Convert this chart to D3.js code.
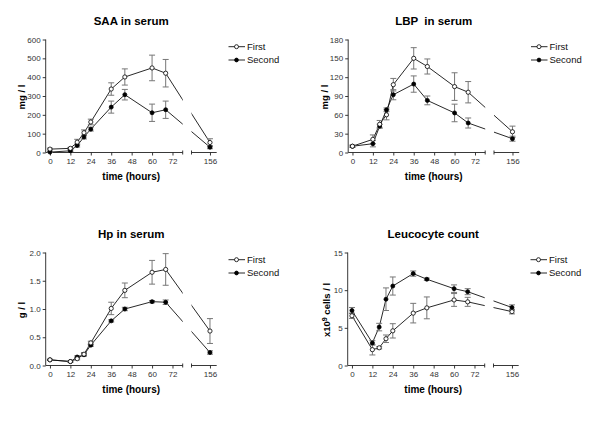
<!DOCTYPE html>
<html><head><meta charset="utf-8">
<script src="https://cdn.jsdelivr.net/npm/d3@7"></script>
<style>
html,body{margin:0;padding:0;background:#fff;}
svg{display:block;font-family:"Liberation Sans",Arial,Helvetica,sans-serif;}
text{white-space:pre;}
</style></head>
<body>
<svg id="chart" width="600" height="424"></svg>
<script>
const times = [0, 12, 16, 20, 24, 36, 44, 60, 68, 156];
const xTicks = [0, 12, 24, 36, 48, 60, 72, 156];
const seriesNames = ["First", "Second"];

const saaFirst = [18, 22, 55, 105, 162, 337, 401, 449, 421, 53];
const saaFirstErr = [5, 5, 15, 15, 15, 33, 43, 68, 73, 20];
const saaSecond = [2, 9, 37, 82, 124, 241, 307, 211, 227, 28];
const saaSecondErr = [3, 4, 8, 10, 10, 32, 28, 46, 46, 8];
const saaTicks = [0, 100, 200, 300, 400, 500, 600];

const lbpFirst = [10, 21, 45, 60, 108, 150, 137, 105, 96, 33];
const lbpFirstErr = [2, 7, 6, 8, 10, 17, 12, 22, 17, 9];
const lbpSecond = [10, 14, 42, 68, 92, 109, 83, 63, 47, 22];
const lbpSecondErr = [1, 5, 3, 3, 8, 13, 7, 14, 8, 4];
const lbpTicks = [0, 30, 60, 90, 120, 150, 180];

const hpFirst = [0.10, 0.07, 0.12, 0.20, 0.40, 1.01, 1.33, 1.65, 1.70, 0.61];
const hpFirstErr = [0.01, 0.01, 0.02, 0.03, 0.03, 0.11, 0.13, 0.21, 0.28, 0.22];
const hpSecond = [0.10, 0.07, 0.15, 0.19, 0.36, 0.79, 1.00, 1.13, 1.12, 0.23];
const hpSecondErr = [0.01, 0.01, 0.02, 0.02, 0.02, 0.02, 0.03, 0.02, 0.04, 0.03];
const hpTicks = [0, 0.5, 1.0, 1.5, 2.0];

const leuFirst = [6.6, 2.1, 2.35, 3.55, 4.6, 6.95, 7.65, 8.7, 8.45, 7.15];
const leuFirstErr = [0.35, 0.7, 0.15, 0.5, 0.95, 1.3, 1.45, 0.85, 0.6, 0.3];
const leuSecond = [7.3, 3.0, 5.1, 8.8, 10.55, 12.2, 11.45, 10.2, 9.8, 7.7];
const leuSecondErr = [0.4, 0.3, 0.5, 1.5, 1.2, 0.35, 0.15, 0.5, 0.4, 0.35];
const leuTicks = [0, 5, 10, 15];

const panels = [
  {ox: 0, oy: 0, title: "SAA in serum", ylabel: ["mg / l"], ticks: saaTicks, fmt: d3.format("d"),
   first: saaFirst, firstErr: saaFirstErr, second: saaSecond, secondErr: saaSecondErr},
  {ox: 302.5, oy: 0, title: "LBP  in serum", ylabel: ["mg / l"], ticks: lbpTicks, fmt: d3.format("d"),
   first: lbpFirst, firstErr: lbpFirstErr, second: lbpSecond, secondErr: lbpSecondErr},
  {ox: 0, oy: 213, title: "Hp in serum", ylabel: ["g / l"], ticks: hpTicks, fmt: d3.format(".1f"),
   first: hpFirst, firstErr: hpFirstErr, second: hpSecond, secondErr: hpSecondErr},
  {ox: 302, oy: 213, title: "Leucocyte count", ylabel: ["x10", "9", " cells / l"], ticks: leuTicks, fmt: d3.format("d"),
   first: leuFirst, firstErr: leuFirstErr, second: leuSecond, secondErr: leuSecondErr}
];

const svg = d3.select("#chart");
const defs = svg.append("defs");

const AX_L = 45.7, BRK1 = 182.7, BRK2 = 191.5, AX_R = 216.7;
const Y_BOT = 152.5, Y_TOP = 39.5;

panels.forEach((p, i) => {
  const g = svg.append("g").attr("transform", `translate(${p.ox},${p.oy})`);
  const x = d3.scaleLinear().domain([-2.5, 78, 145, 160]).range([AX_L, BRK1, BRK2, AX_R]);
  const yMax = p.ticks[p.ticks.length - 1];
  const y = d3.scaleLinear().domain([0, yMax]).range([Y_BOT, Y_TOP]);

  // clip for the axis break (in the group's local coordinates)
  const cid = "clip" + i;
  const cp = defs.append("clipPath").attr("id", cid);
  cp.append("rect").attr("x", 0).attr("y", 0).attr("width", BRK1).attr("height", 200);
  cp.append("rect").attr("x", BRK2).attr("y", 0).attr("width", 120).attr("height", 200);

  // title
  g.append("text").attr("x", (AX_L + AX_R) / 2).attr("y", 24.5).attr("text-anchor", "middle")
    .attr("font-size", 11.5).attr("font-weight", "bold").attr("fill", "#000").text(p.title);

  // y axis
  const yAxis = d3.axisLeft(y).tickValues(p.ticks).tickFormat(p.fmt).tickSize(3).tickPadding(2);
  const ya = g.append("g").attr("transform", `translate(${AX_L},0)`).call(yAxis);
  ya.select(".domain").attr("d", `M0,${Y_TOP}V${Y_BOT}`);

  // x axis segments
  const xAxis1 = d3.axisBottom(x).tickValues(xTicks.filter(t => t < 100)).tickFormat(d3.format("d")).tickSize(3).tickPadding(3);
  const xa1 = g.append("g").attr("transform", `translate(0,${Y_BOT})`).call(xAxis1);
  xa1.select(".domain").attr("d", `M${AX_L},0H${BRK1}M${BRK1},-2V2`);
  const xAxis2 = d3.axisBottom(x).tickValues(xTicks.filter(t => t > 100)).tickFormat(d3.format("d")).tickSize(3).tickPadding(3);
  const xa2 = g.append("g").attr("transform", `translate(0,${Y_BOT})`).call(xAxis2);
  xa2.select(".domain").attr("d", `M${BRK2},-2V2M${BRK2},0H${AX_R}`);

  g.selectAll(".domain, .tick line").attr("stroke", "#222").attr("stroke-width", 0.9);
  g.selectAll(".tick text").attr("font-size", 8).attr("fill", "#333")
    .attr("font-family", "'Liberation Sans',Arial,sans-serif");

  // axis labels
  g.append("text").attr("x", (AX_L + AX_R) / 2).attr("y", 179.5).attr("text-anchor", "middle")
    .attr("font-size", 10).attr("font-weight", "bold").text("time (hours)");
  const yl = g.append("text").attr("transform", `translate(${i === 3 ? 27.5 : 25},${(Y_TOP + Y_BOT) / 2 + 1}) rotate(-90)`)
    .attr("text-anchor", "middle").attr("font-size", 9.5).attr("font-weight", "bold");
  if (p.ylabel.length === 1) {
    yl.text(p.ylabel[0]);
  } else {
    yl.append("tspan").text(p.ylabel[0]);
    yl.append("tspan").attr("baseline-shift", "super").attr("font-size", 7).text(p.ylabel[1]);
    yl.append("tspan").text(p.ylabel[2]);
  }

  const series = [
    {vals: p.first, err: p.firstErr, open: true},
    {vals: p.second, err: p.secondErr, open: false}
  ];
  const line = d3.line().x((d, k) => x(times[k])).y(d => y(d));

  series.forEach(s => {
    g.append("path").datum(s.vals).attr("d", line).attr("fill", "none")
      .attr("stroke", "#111").attr("stroke-width", 0.9).attr("clip-path", `url(#${cid})`);
  });
  series.forEach(s => {
    const eb = g.append("g").attr("stroke", "#777").attr("stroke-width", 1).attr("fill", "none");
    s.vals.forEach((v, k) => {
      const e = s.err[k];
      if (!e) return;
      const cx = x(times[k]);
      const y1 = y(v + e), y0 = y(Math.max(0, v - e));
      eb.append("path").attr("d", `M${cx},${y0}V${y1}M${cx - 3},${y1}H${cx + 3}M${cx - 3},${y0}H${cx + 3}`);
    });
  });
  series.slice().reverse().forEach(s => {
    g.append("g").selectAll("circle").data(s.vals).join("circle")
      .attr("cx", (d, k) => x(times[k])).attr("cy", d => y(d))
      .attr("r", s.open ? 2.1 : 2.0)
      .attr("fill", s.open ? "#fff" : "#000").attr("stroke", "#000").attr("stroke-width", 0.8);
  });

  // legend
  const lg = g.append("g");
  seriesNames.forEach((name, k) => {
    const ly = 46.7 + k * 13.3;
    lg.append("line").attr("x1", 228.5).attr("x2", 245).attr("y1", ly).attr("y2", ly)
      .attr("stroke", "#111").attr("stroke-width", 0.9);
    lg.append("circle").attr("cx", 236.5).attr("cy", ly).attr("r", k === 0 ? 2.0 : 1.9)
      .attr("fill", k === 0 ? "#fff" : "#000").attr("stroke", "#000").attr("stroke-width", 0.8);
    lg.append("text").attr("x", 247).attr("y", ly + 3.4).attr("font-size", 9.5).attr("fill", "#111").text(name);
  });
});
</script>
</body></html>
